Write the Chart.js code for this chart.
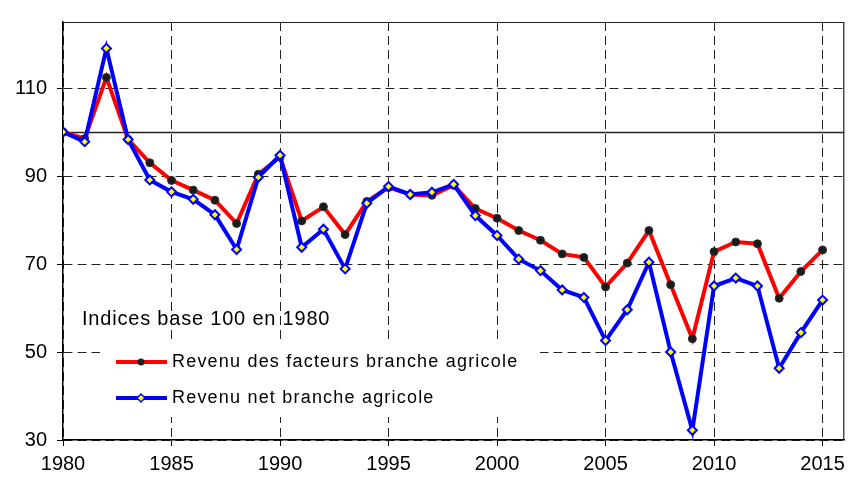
<!DOCTYPE html>
<html>
<head>
<meta charset="utf-8">
<script src="https://cdn.jsdelivr.net/npm/chart.js@4/dist/chart.umd.min.js"></script>
<style>
  html, body { margin: 0; padding: 0; background: #fff; }
  #wrap { width: 851px; height: 478px; }
</style>
</head>
<body>
<div id="wrap"><canvas id="myChart" width="851" height="478"></canvas></div>
<script>
// data
const years = [1980, 1981, 1982, 1983, 1984, 1985, 1986, 1987, 1988, 1989,
  1990, 1991, 1992, 1993, 1994, 1995, 1996, 1997, 1998, 1999,
  2000, 2001, 2002, 2003, 2004, 2005, 2006, 2007, 2008, 2009,
  2010, 2011, 2012, 2013, 2014, 2015];
const revenuFacteurs = [100, 98.5, 112.4, 98.3, 93.0, 89.0, 86.8, 84.5, 79.2, 90.4,
  94.3, 79.8, 83.0, 76.7, 84.2, 87.4, 85.8, 85.6, 87.9, 82.6,
  80.4, 77.6, 75.4, 72.3, 71.5, 64.8, 70.2, 77.6, 65.3, 53.0,
  72.8, 75.0, 74.6, 62.2, 68.3, 73.2];
const revenuNet = [100, 97.8, 119.0, 98.3, 89.1, 86.4, 84.7, 81.2, 73.3, 89.7,
  94.7, 73.8, 77.9, 68.9, 83.8, 87.6, 85.8, 86.3, 88.1, 81.0,
  76.5, 71.1, 68.5, 64.1, 62.4, 52.6, 59.6, 70.4, 50.0, 32.2,
  65.0, 66.8, 65.0, 46.3, 54.4, 61.8];
const seriesLabels = ["Revenu des facteurs branche agricole", "Revenu net branche agricole"];
const noteText = "Indices base 100 en 1980";
const baseValue = 100;
const xTicks = [1980, 1985, 1990, 1995, 2000, 2005, 2010, 2015];
const yTicks = [30, 50, 70, 90, 110];

const FONT = "'Liberation Sans', Arial, sans-serif";

function toPoints(vals) {
  return years.map((y, i) => ({ x: y, y: vals[i] }));
}

// extra drawing: base line, frame, note and legend
const extras = {
  id: "extras",
  beforeDatasetsDraw(chart) {
    const ctx = chart.ctx;
    const a = chart.chartArea;
    const ys = chart.scales.y;
    ctx.save();
    // base 100 line
    const y100 = Math.round(ys.getPixelForValue(baseValue)) + 0.5;
    ctx.strokeStyle = "#222";
    ctx.lineWidth = 1.5;
    ctx.beginPath();
    ctx.moveTo(a.left, y100);
    ctx.lineTo(a.right, y100);
    ctx.stroke();
    // frame top / right
    ctx.strokeStyle = "#222";
    ctx.lineWidth = 1.2;
    ctx.beginPath();
    ctx.moveTo(a.left, a.top + 0.5);
    ctx.lineTo(a.right - 0.5, a.top + 0.5);
    ctx.lineTo(a.right - 0.5, a.bottom);
    ctx.stroke();

    // note text
    ctx.fillStyle = "#000";
    ctx.font = "20px " + FONT;
    ctx.letterSpacing = "0.8px";
    ctx.textBaseline = "alphabetic";
    ctx.fillText(noteText, 82, 325);

    // legend box
    ctx.fillStyle = "#fff";
    ctx.fillRect(100, 343, 440, 74);
    const rows = [
      { y: 362, color: "#ff0000" },
      { y: 398, color: "#0000ff" }
    ];
    rows.forEach((r, i) => {
      ctx.strokeStyle = r.color;
      ctx.lineWidth = 4;
      ctx.beginPath();
      ctx.moveTo(116, r.y);
      ctx.lineTo(167, r.y);
      ctx.stroke();
      if (i === 0) {
        ctx.fillStyle = "#222";
        ctx.beginPath();
        ctx.arc(141, r.y, 3.5, 0, Math.PI * 2);
        ctx.fill();
      } else {
        ctx.fillStyle = "#ffff00";
        ctx.strokeStyle = "#0000ff";
        ctx.lineWidth = 1.5;
        ctx.beginPath();
        ctx.moveTo(141, r.y - 4);
        ctx.lineTo(145, r.y);
        ctx.lineTo(141, r.y + 4);
        ctx.lineTo(137, r.y);
        ctx.closePath();
        ctx.fill();
        ctx.stroke();
      }
      ctx.fillStyle = "#000";
      ctx.font = "18px " + FONT;
      ctx.letterSpacing = "1.2px";
      ctx.textBaseline = "middle";
      ctx.fillText(seriesLabels[i], 172, r.y);
    });
    ctx.restore();
  }
};

const ctx = document.getElementById("myChart");

new Chart(ctx, {
  type: "line",
  data: {
    datasets: [
      {
        label: seriesLabels[0],
        data: toPoints(revenuFacteurs),
        borderColor: "#ff0000",
        borderWidth: 4,
        pointStyle: "circle",
        pointRadius: 4,
        pointBackgroundColor: "#1a1a1a",
        pointBorderColor: "#333",
        pointBorderWidth: 1,
        tension: 0,
        order: 2,
      },
      {
        label: seriesLabels[1],
        data: toPoints(revenuNet),
        borderColor: "#0000ff",
        borderWidth: 4,
        pointStyle: "rectRot",
        pointRadius: 4.5,
        pointBackgroundColor: "#ffff00",
        pointBorderColor: "#0000ff",
        pointBorderWidth: 2,
        tension: 0,
        order: 1,
      },
    ],
  },
  options: {
    responsive: false,
    animation: false,
    layout: { padding: { top: 13, right: 5, left: 0, bottom: 0 } },
    plugins: {
      legend: { display: false },
      tooltip: { enabled: false },
    },
    scales: {
      x: {
        type: "linear",
        min: 1980,
        max: 2016,
        afterFit: (s) => { s.height = 38; },
        afterBuildTicks: (s) => { s.ticks = xTicks.map((v) => ({ value: v })); },
        ticks: {
          color: "#000",
          font: { family: FONT, size: 20 },
          padding: 6,
          maxRotation: 0,
          autoSkip: false,
          callback: (v) => String(v),
        },
        grid: {
          color: "#222",
          lineWidth: 1,
          tickLength: 6,
          tickColor: "#000",
          tickBorderDash: [],
        },
        border: { display: true, color: "#000", width: 1.5, dash: [9, 5] },
      },
      y: {
        min: 30,
        max: 125,
        afterFit: (s) => { s.width = 63; },
        afterBuildTicks: (s) => { s.ticks = yTicks.map((v) => ({ value: v })); },
        ticks: {
          color: "#000",
          font: { family: FONT, size: 20 },
          padding: 10,
          autoSkip: false,
        },
        grid: {
          color: "#222",
          lineWidth: 1,
          tickLength: 6,
          tickColor: "#000",
          tickBorderDash: [],
        },
        border: { display: true, color: "#000", width: 1.5, dash: [9, 5] },
      },
    },
  },
  plugins: [extras],
});
</script>
</body>
</html>
